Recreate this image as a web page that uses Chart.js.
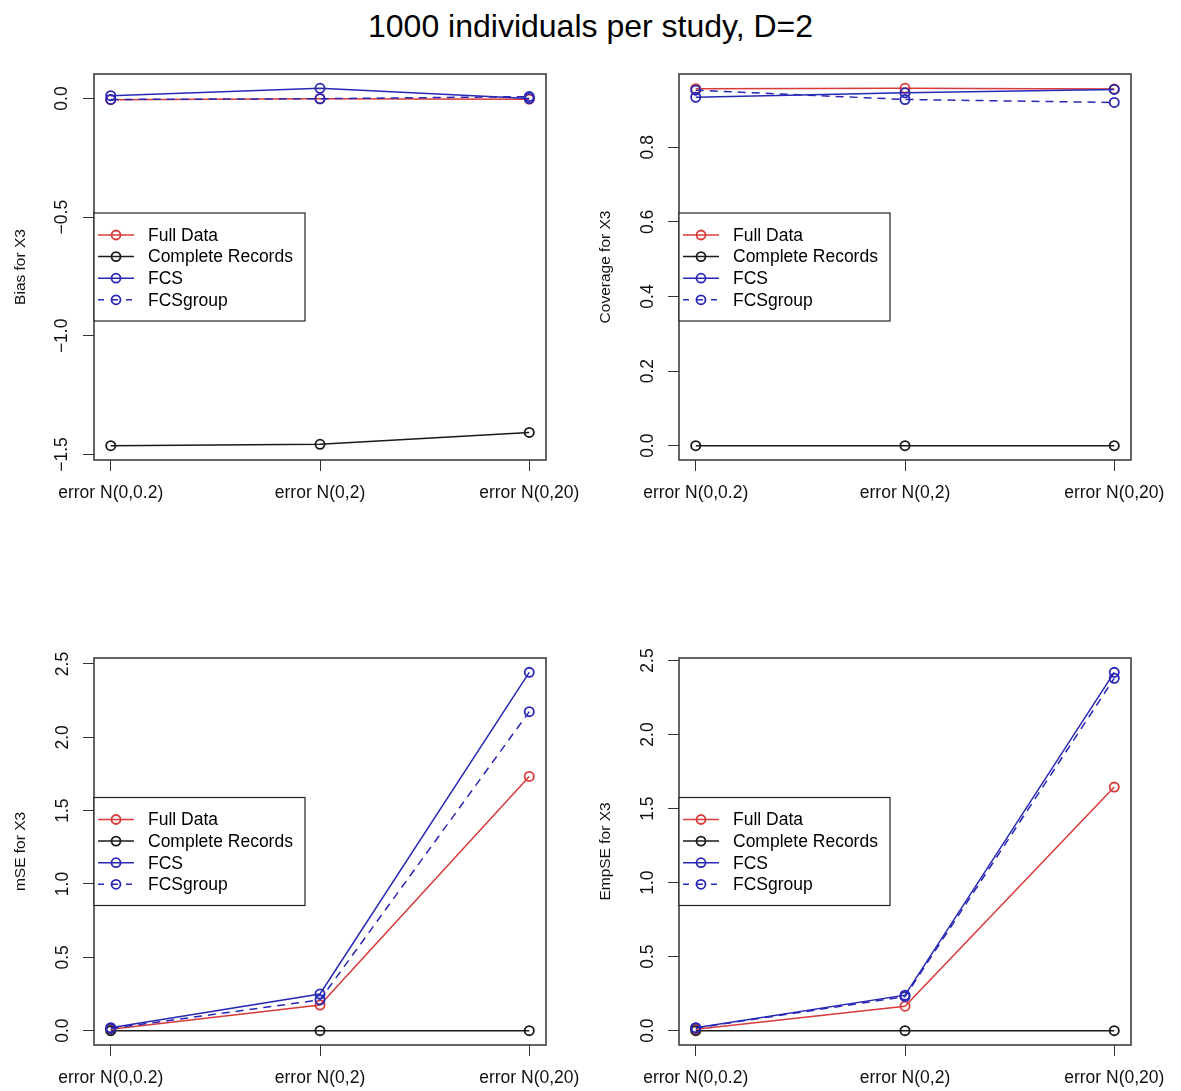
<!DOCTYPE html>
<html>
<head>
<meta charset="utf-8">
<script src="https://cdn.jsdelivr.net/npm/chart.js@4.4.1/dist/chart.umd.min.js"></script>
<style>
  body { margin: 0; background: #fff; width: 1181px; height: 1091px; position: relative; overflow: hidden;
         font-family: "Liberation Sans", Arial, sans-serif; }
  #title { position: absolute; left: 0; top: 8px; width: 1181px; text-align: center; font-size: 32px; color: #000; }
  canvas { position: absolute; }
</style>
</head>
<body>
<div id="title">1000 individuals per study, D=2</div>
<canvas id="bias" width="590" height="473" style="left:0;top:53px"></canvas>
<canvas id="coverage" width="596" height="473" style="left:585px;top:53px"></canvas>
<canvas id="mse" width="590" height="454" style="left:0;top:637px"></canvas>
<canvas id="empse" width="596" height="454" style="left:585px;top:637px"></canvas>
<script>
// categories
const xLabels = ['error N(0,0.2)', 'error N(0,2)', 'error N(0,20)'];
const methods = ['Full Data', 'Complete Records', 'FCS', 'FCSgroup'];

// Bias for X3
const biasFull = [-0.005, -0.001, -0.003];
const biasCR   = [-1.463, -1.457, -1.407];
const biasFCS  = [0.012, 0.043, 0.000];
const biasFCSg = [-0.004, -0.001, 0.008];
const biasTicks = [-1.5, -1.0, -0.5, 0.0];

// Coverage for X3
const covFull = [0.957, 0.958, 0.956];
const covCR   = [0, 0, 0];
const covFCS  = [0.934, 0.946, 0.955];
const covFCSg = [0.953, 0.928, 0.920];
const covTicks = [0.0, 0.2, 0.4, 0.6, 0.8];

// mSE for X3
const mseFull = [0.010, 0.175, 1.733];
const mseCR   = [0, 0, 0];
const mseFCS  = [0.020, 0.250, 2.443];
const mseFCSg = [0.015, 0.210, 2.175];
const seTicks = [0.0, 0.5, 1.0, 1.5, 2.0, 2.5];

// EmpSE for X3
const empFull = [0.010, 0.165, 1.645];
const empCR   = [0, 0, 0];
const empFCS  = [0.020, 0.240, 2.420];
const empFCSg = [0.018, 0.230, 2.380];

const RED = '#d93a3a', BLACK = '#1a1a1a', BLUE = '#2828b4';
const lineColors = [RED, BLACK, BLUE, BLUE];
const lineDashes = [[], [], [], [8, 6]];

// plot frame + R-style legend at "left"
const frameLegend = {
  id: 'frameLegend',
  afterDatasetsDraw(chart) {
    const { ctx, chartArea: a } = chart;
    ctx.save();
    ctx.strokeStyle = '#333';
    ctx.lineWidth = 1.5;
    ctx.strokeRect(a.left, a.top, a.right - a.left, a.bottom - a.top);

    const w = 211, h = 108;
    const lx = a.left, ly = (a.top + a.bottom) / 2 - h / 2;
    ctx.fillStyle = '#fff';
    ctx.fillRect(lx, ly, w, h);
    ctx.strokeStyle = '#222';
    ctx.lineWidth = 1.2;
    ctx.strokeRect(lx, ly, w, h);

    ctx.font = '17.5px "Liberation Sans", Arial, sans-serif';
    ctx.textBaseline = 'middle';
    chart.data.datasets.forEach((ds, i) => {
      const y = ly + 22 + i * 21.6;
      ctx.strokeStyle = ds.borderColor;
      ctx.lineWidth = 1.5;
      ctx.setLineDash(ds.borderDash.length ? [6, 8] : []);
      ctx.beginPath();
      ctx.moveTo(lx + 4, y);
      ctx.lineTo(lx + 40, y);
      ctx.stroke();
      ctx.setLineDash([]);
      ctx.lineWidth = 1.8;
      ctx.beginPath();
      ctx.arc(lx + 22, y, 4.5, 0, Math.PI * 2);
      ctx.stroke();
      ctx.fillStyle = '#000';
      ctx.fillText(ds.label, lx + 54, y + 1);
    });
    ctx.restore();
  }
};

// area: page coords of the plot box {top, bottom, right}; left edge is always 94px into the canvas
function makePanel(id, yTitle, yTicks, series, area, tickPad) {
  const all = series.flat();
  const lo = Math.min(...all), hi = Math.max(...all);
  const ext = (hi - lo) * 0.04;
  const canvas = document.getElementById(id);
  const cTop = parseFloat(canvas.style.top), cLeft = parseFloat(canvas.style.left);
  const xAxisH = cTop + canvas.height - area.bottom;

  new Chart(canvas, {
    type: 'line',
    data: {
      datasets: series.map((vals, i) => ({
        label: methods[i],
        data: vals.map((v, j) => ({ x: j + 1, y: v })),
        borderColor: lineColors[i],
        borderDash: lineDashes[i],
        borderWidth: 1.5,
        pointStyle: 'circle',
        pointRadius: 4.6,
        pointBorderWidth: 1.8,
        pointBorderColor: lineColors[i],
        pointBackgroundColor: 'rgba(0,0,0,0)',
        tension: 0,
        order: 4 - i
      }))
    },
    options: {
      responsive: false,
      animation: false,
      events: [],
      layout: { padding: { left: 0, top: area.top - cTop, right: cLeft + canvas.width - area.right, bottom: 0 } },
      plugins: { legend: { display: false }, tooltip: { enabled: false } },
      scales: {
        x: {
          type: 'linear',
          min: 0.92,
          max: 3.08,
          afterBuildTicks: s => { s.ticks = [1, 2, 3].map(v => ({ value: v })); },
          afterFit: s => { s.height = xAxisH; s.paddingLeft = 0; s.paddingRight = 0; },
          grid: { drawOnChartArea: false, drawTicks: true, tickLength: 11, color: '#333', lineWidth: 1 },
          border: { display: false },
          ticks: {
            autoSkip: false, maxRotation: 0, minRotation: 0, padding: 12,
            color: '#111',
            font: { family: '"Liberation Sans", Arial, sans-serif', size: 17.5 },
            callback: v => xLabels[v - 1]
          }
        },
        y: {
          type: 'linear',
          min: lo - ext,
          max: hi + ext,
          afterBuildTicks: s => { s.ticks = yTicks.map(v => ({ value: v })); },
          afterFit: s => { s.width = 94; s.paddingTop = 0; s.paddingBottom = 0; },
          grid: { drawOnChartArea: false, drawTicks: true, tickLength: 11, color: '#333', lineWidth: 1 },
          border: { display: false },
          title: {
            display: true, text: yTitle, color: '#111',
            font: { family: '"Liberation Sans", Arial, sans-serif', size: 15.5 },
            padding: { top: 11, bottom: 0 }
          },
          ticks: {
            minRotation: 90, maxRotation: 90, crossAlign: 'center', padding: tickPad,
            color: '#111',
            font: { family: '"Liberation Sans", Arial, sans-serif', size: 17.5 },
            callback: v => v.toFixed(1).replace('-', '\u2212')
          }
        }
      }
    },
    plugins: [frameLegend]
  });
}

makePanel('bias', 'Bias for X3', biasTicks, [biasFull, biasCR, biasFCS, biasFCSg],
  { top: 74, bottom: 460, right: 546 }, 4);
makePanel('coverage', 'Coverage for X3', covTicks, [covFull, covCR, covFCS, covFCSg],
  { top: 74, bottom: 460, right: 1131 }, 8);
makePanel('mse', 'mSE for X3', seTicks, [mseFull, mseCR, mseFCS, mseFCSg],
  { top: 658, bottom: 1045, right: 546 }, 8);
makePanel('empse', 'EmpSE for X3', seTicks, [empFull, empCR, empFCS, empFCSg],
  { top: 658, bottom: 1045, right: 1131 }, 8);
</script>
</body>
</html>
